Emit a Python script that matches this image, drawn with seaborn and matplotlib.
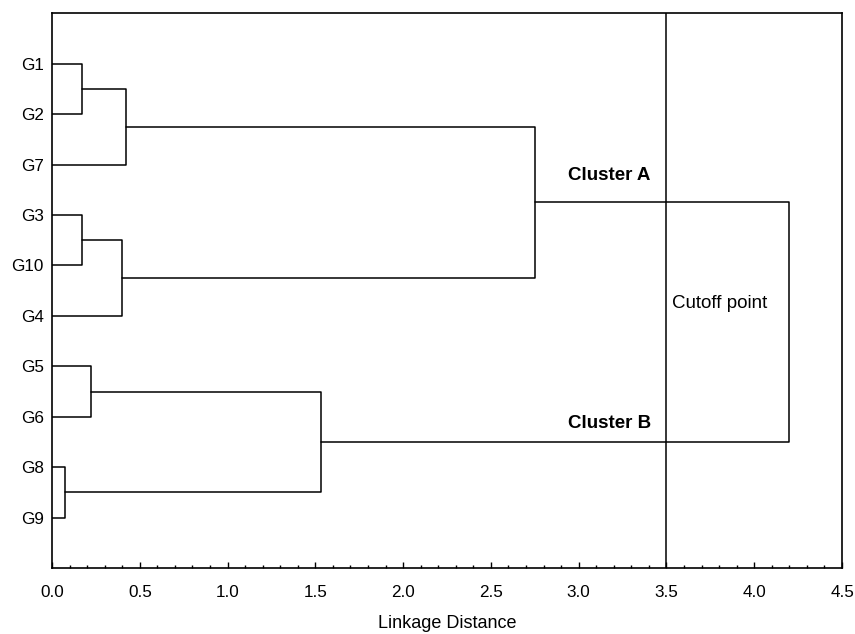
import matplotlib
matplotlib.use("Agg")
import matplotlib.pyplot as plt
from matplotlib.ticker import MultipleLocator
import numpy as np
import pandas as pd
import seaborn as sns

# ---- data ----
leaves = ["G1", "G2", "G7", "G3", "G10", "G4", "G5", "G6", "G8", "G9"]
# merges: (left member, right member, linkage distance)
merge_left = ["G1", "N0", "G3", "N2", "N1", "G5", "G8", "N5", "N4"]
merge_right = ["G2", "G7", "G10", "G4", "N3", "G6", "G9", "N6", "N7"]
merge_height = [0.17, 0.42, 0.17, 0.40, 2.75, 0.22, 0.075, 1.53, 4.20]
cutoff = 3.5
annotations = ["Cluster A", "Cluster B", "Cutoff point"]
xticks = [0.0, 0.5, 1.0, 1.5, 2.0, 2.5, 3.0, 3.5, 4.0, 4.5]

# ---- build link segments ----
pos = {name: (0.0, i + 1) for i, name in enumerate(leaves)}
rows = []
for k, (a, b, h) in enumerate(zip(merge_left, merge_right, merge_height)):
    xa, ya = pos[a]
    xb, yb = pos[b]
    for px, py in [(xa, ya), (h, ya), (h, yb), (xb, yb)]:
        rows.append({"x": px, "y": py, "link": k})
    pos[f"N{k}"] = (h, (ya + yb) / 2)
df = pd.DataFrame(rows)

sns.set_style("white")
plt.rcParams["font.sans-serif"] = ["Liberation Sans", "DejaVu Sans"]
plt.rcParams["font.family"] = ["Liberation Sans", "DejaVu Sans"]
for key in ["text.color", "axes.labelcolor", "xtick.color", "ytick.color"]:
    plt.rcParams[key] = "black"

fig = plt.figure(figsize=(8.55, 6.34), dpi=100)
ax = fig.add_axes([0.0608, 0.1041, 0.9240, 0.8749])

sns.lineplot(data=df, x="x", y="y", units="link", estimator=None, sort=False,
             color="black", linewidth=1.1, ax=ax, legend=False)
ax.axvline(cutoff, color="black", linewidth=1.1)

ax.set_xlim(0, 4.5)
ax.set_ylim(len(leaves) + 1, 0)
ax.set_yticks(range(1, len(leaves) + 1))
ax.set_yticklabels(leaves, fontsize=12.3)
ax.set_xticks(xticks)
ax.set_xticklabels([f"{t:.1f}" for t in xticks], fontsize=12.3)
ax.xaxis.set_minor_locator(MultipleLocator(0.1))
ax.tick_params(axis="x", which="major", direction="in", length=4, width=1, pad=12, bottom=True)
ax.tick_params(axis="x", which="minor", direction="in", length=2.5, width=1, bottom=True)
ax.tick_params(axis="y", length=0, pad=6)
ax.set_xlabel("Linkage Distance", fontsize=13, labelpad=11)
ax.set_ylabel("")
for s in ax.spines.values():
    s.set_visible(True)
    s.set_color("black")
    s.set_linewidth(1.2)

ax.text(3.41, 3.22, annotations[0], ha="right", va="center", fontsize=13.5, fontweight="bold")
ax.text(3.41, 8.14, annotations[1], ha="right", va="center", fontsize=13.5, fontweight="bold")
ax.text(3.53, 5.75, annotations[2], ha="left", va="center", fontsize=13.5)

fig.savefig("out.png", dpi=100)
